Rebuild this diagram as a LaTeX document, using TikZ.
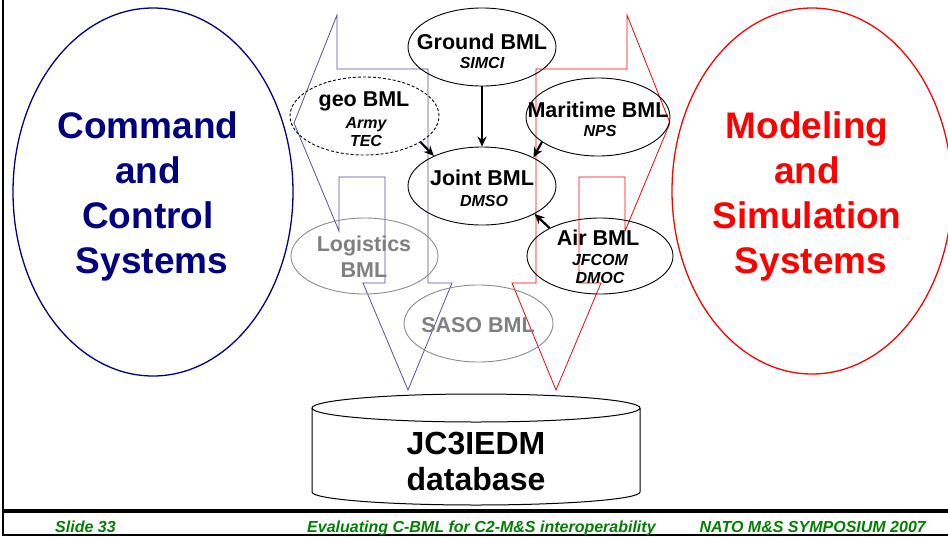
\documentclass[tikz,border=0pt]{standalone}
\usepackage{fontspec}
\setmainfont{Liberation Sans}
\usetikzlibrary{shapes.geometric,arrows.meta}
\definecolor{navyc}{RGB}{0,0,128}
\definecolor{bluearrow}{RGB}{80,80,165}
\definecolor{redc}{RGB}{255,0,0}
\definecolor{grayt}{RGB}{128,128,128}
\definecolor{grayl}{RGB}{140,140,140}
\definecolor{footgreen}{RGB}{0,128,0}
\tikzset{
  bml/.style={ellipse, draw=black, line width=0.9pt, inner sep=0pt, minimum width=148pt, minimum height=78pt},
  graybml/.style={bml, draw=grayl},
  ttl/.style={anchor=base, inner sep=0pt, font=\fontsize{21.5}{24}\selectfont\bfseries},
  gttl/.style={ttl, text=grayt},
  subt/.style={anchor=base, inner sep=0pt, font=\fontsize{16}{18}\selectfont\bfseries\itshape},
  bigblue/.style={anchor=base, inner sep=0pt, text=navyc, font=\fontsize{37}{44}\selectfont\bfseries},
  bigred/.style={anchor=base, inner sep=0pt, text=redc, font=\fontsize{37}{44}\selectfont\bfseries},
  dbtext/.style={anchor=base, inner sep=0pt, font=\fontsize{32}{36}\selectfont\bfseries},
  foot/.style={inner sep=0pt, text=footgreen, font=\fontsize{16}{18}\selectfont\bfseries\itshape},
  link/.style={line width=2.2pt, -{Stealth[length=10pt,width=9pt]}},
  bigarrow/.style={line width=0.8pt, line join=miter},
}
\begin{document}
\begin{tikzpicture}[x=1pt,y=-1pt]
\clip (0,0) rectangle (948,536);
\fill[white] (0,0) rectangle (948,536);

% frame / footer
\draw[line width=2.5pt] (3,0) -- (3,536);
\draw[line width=3.5pt] (3,511) -- (948,511);
\draw[line width=1.2pt] (3,535) -- (948,535);

% big ellipses
\node[ellipse, draw=navyc, line width=1.3pt, inner sep=0pt, minimum width=280pt, minimum height=368pt] (c2) at (153,192) {};
\node[ellipse, draw=redc, line width=1.3pt, inner sep=0pt, minimum width=280pt, minimum height=366pt] (ms) at (812,191) {};

\node[bigblue] (c2a) at (148,138) {Command};
\node[bigblue] (c2b) at (148,183) {and};
\node[bigblue] (c2c) at (148,228) {Control};
\node[bigblue] (c2d) at (152,273) {Systems};

\node[bigred] (msa) at (807,138) {Modeling};
\node[bigred] (msb) at (807,183) {and};
\node[bigred] (msc) at (807,228) {Simulation};
\node[bigred] (msd) at (811,273) {Systems};

% big bent arrows
\draw[bigarrow, draw=bluearrow] (337,15) -- (337,69) -- (428,69) -- (428,283) -- (452,283) -- (408,390) -- (363,283) -- (385,283) -- (385,177) -- (339,177) -- (339,231) -- (294,123) -- cycle;
\draw[bigarrow, draw=redc] (627,15) -- (627,69) -- (536,69) -- (536,283) -- (512,283) -- (556,390) -- (601,283) -- (579,283) -- (579,177) -- (625,177) -- (625,231) -- (670,123) -- cycle;

% BML ellipses
\node[bml] (ground) at (482,47) {};
\node[bml, dashed, dash pattern=on 3pt off 2pt, minimum width=149pt] (geo) at (364.5,116) {};
\node[bml, minimum width=144pt] (mar) at (598,117) {};
\node[bml] (joint) at (482,186) {};
\node[bml, minimum width=146pt, minimum height=76pt] (air) at (600,256) {};
\node[graybml, minimum width=147pt, minimum height=76pt] (log) at (364.5,256) {};
\node[graybml, minimum width=149pt, minimum height=77pt] (saso) at (478.5,323.5) {};

\node[ttl] (groundt) at (482,49) {Ground BML};
\node[subt] (grounds) at (482,68) {SIMCI};
\node[ttl] (geot) at (364,106) {geo BML};
\node[subt] (geos1) at (366,128) {Army};
\node[subt] (geos2) at (366,146) {TEC};
\node[ttl] (mart) at (598,117) {Maritime BML};
\node[subt] (mars) at (600,136) {NPS};
\node[ttl] (jointt) at (482,185) {Joint BML};
\node[subt] (joints) at (484,206) {DMSO};
\node[ttl] (airt) at (598,245) {Air BML};
\node[subt] (airs1) at (600,265) {JFCOM};
\node[subt] (airs2) at (600,283) {DMOC};
\node[gttl] (logt1) at (364,251) {Logistics};
\node[gttl] (logt2) at (364,277) {BML};
\node[gttl] (sasot) at (478,332) {SASO BML};

% connectors
\draw[link] (ground.south) -- (joint.north);
\draw[link] (geo.-25) -- (joint.148);
\draw[link] (mar.-156) -- (joint.29);
\draw[link] (air.151) -- (joint.-28);

% database cylinder
\draw[line width=1pt] (476,408) ellipse [x radius=164, y radius=14];
\draw[line width=1pt] (312,408) -- (312,492) arc[start angle=180, end angle=0, x radius=164, y radius=13] -- (640,408);
\node[dbtext] (db1) at (476,454) {JC3IEDM};
\node[dbtext] (db2) at (476,490) {database};

% footer text
\node[foot, anchor=base west] (f1) at (55,532) {Slide 33};
\node[foot, anchor=base west] (f2) at (307,532) {Evaluating C-BML for C2-M\&S interoperability};
\node[foot, anchor=base east] (f3) at (926,532) {NATO M\&S SYMPOSIUM 2007};
\end{tikzpicture}
\end{document}
